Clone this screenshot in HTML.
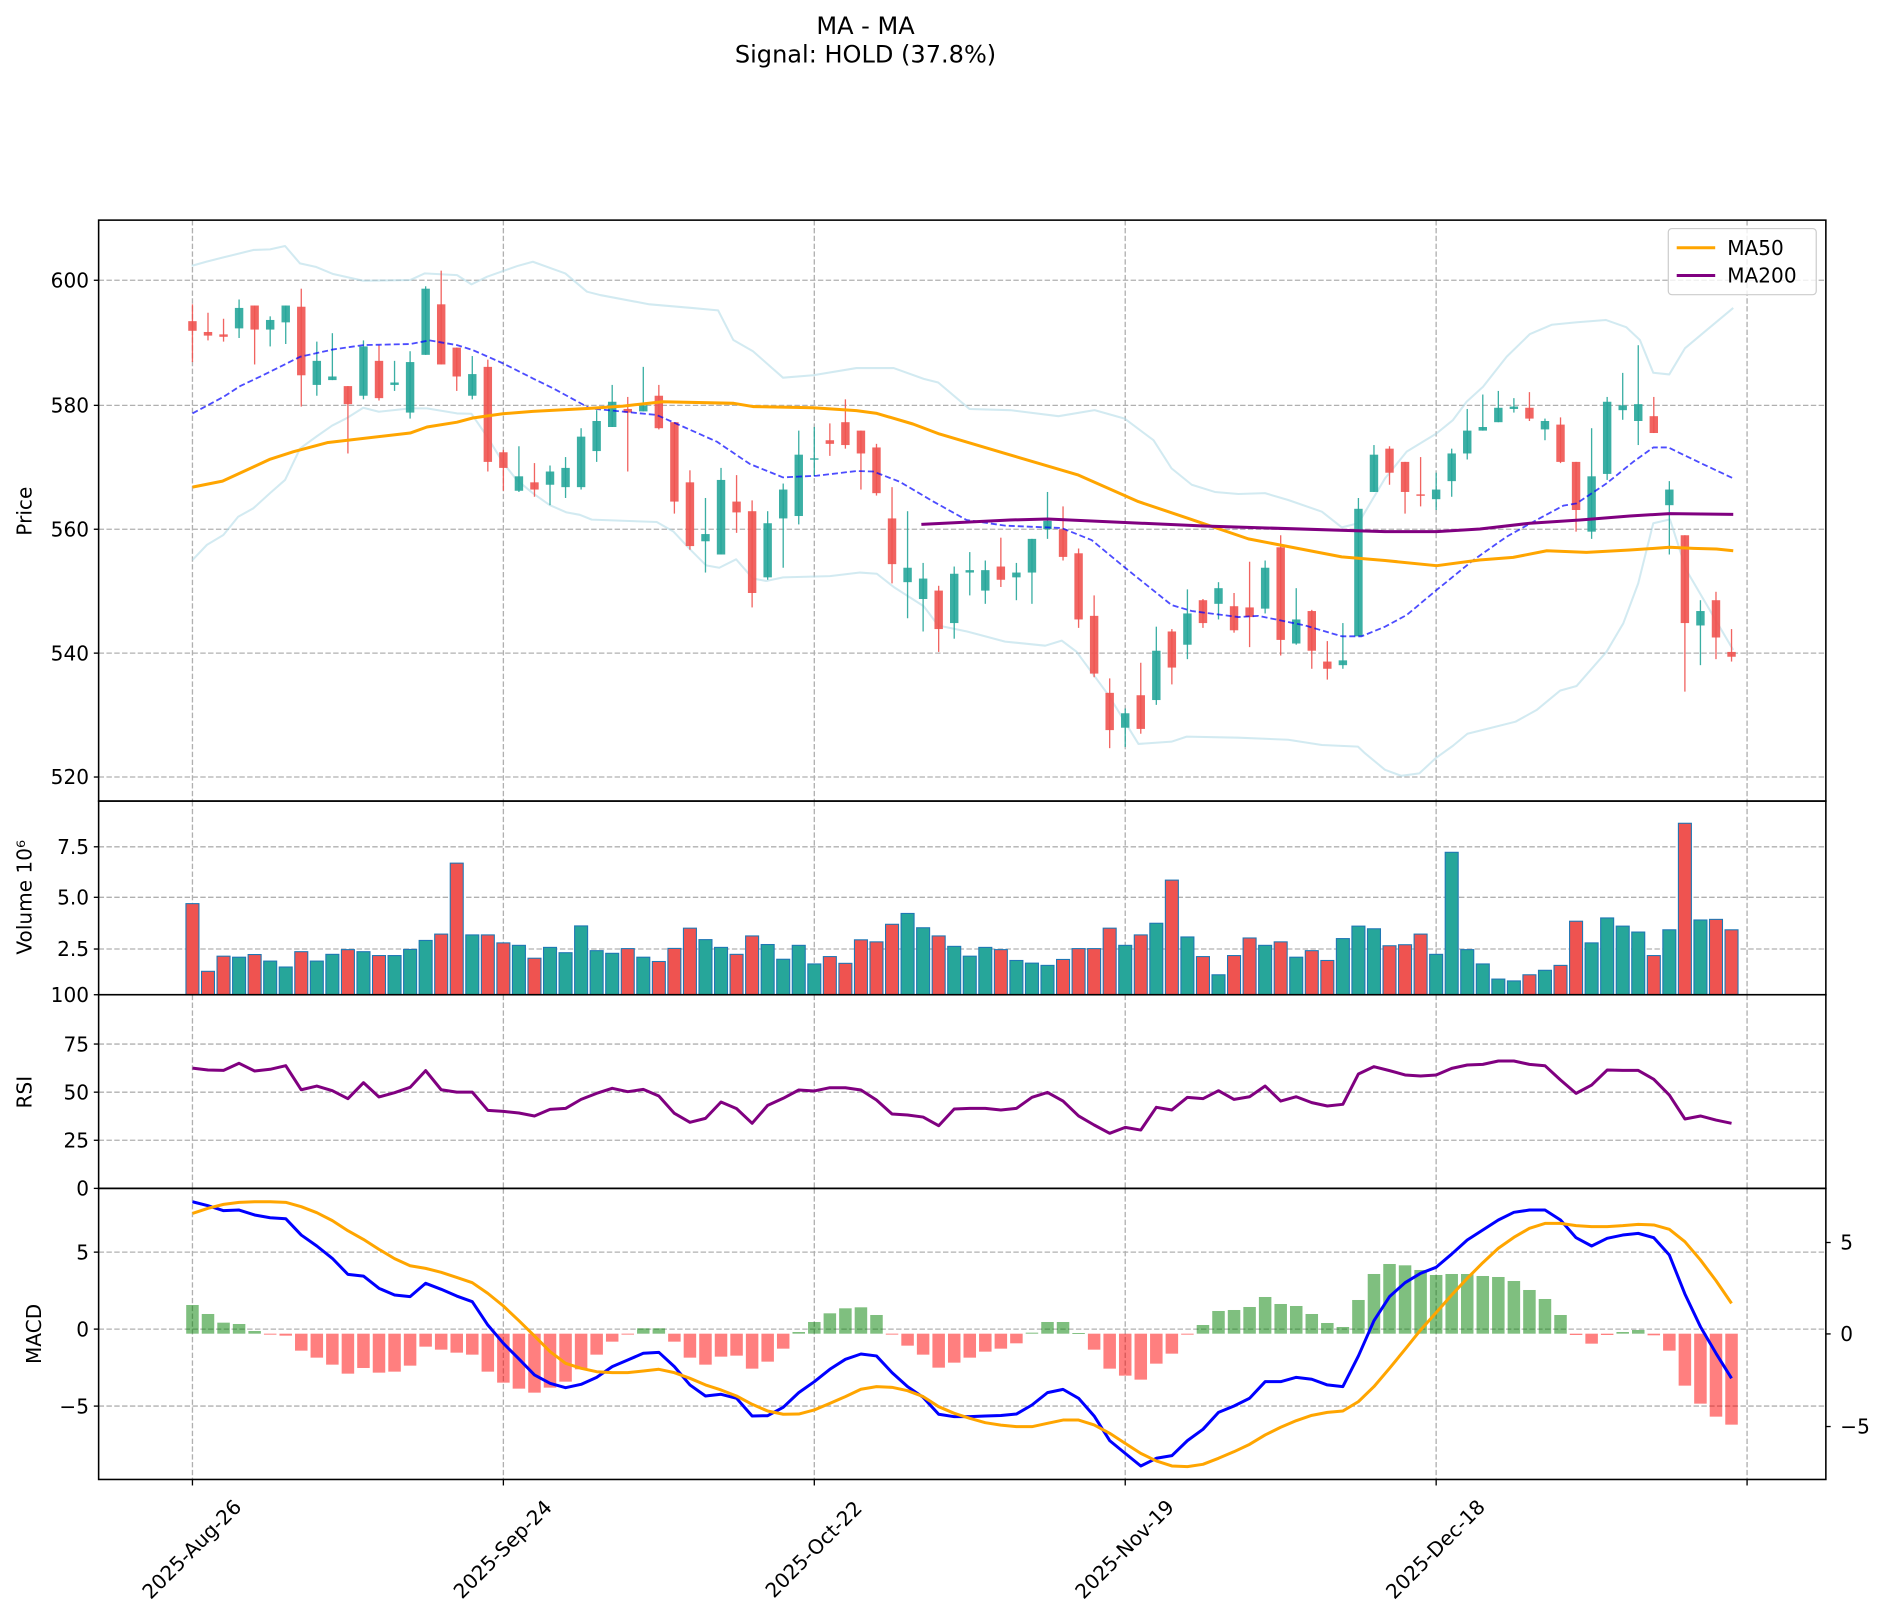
<!DOCTYPE html>
<html><head><meta charset="utf-8"><style>
html,body{margin:0;padding:0;background:#fff;}
svg{display:block;font-family:"DejaVu Sans","Liberation Sans",sans-serif;}
</style></head><body>
<svg id="s" width="1886" height="1619" viewBox="0 0 1568 1346" xmlns="http://www.w3.org/2000/svg">
<rect width="1568" height="1346" fill="#fff"/>
<g id="grid"></g>
<g id="bands"></g>
<g id="plots"></g>
<g id="axes" fill="none" stroke="#000" stroke-width="1.3">
<rect x="82" y="183" width="1436" height="483"/>
<rect x="82" y="666" width="1436" height="161"/>
<rect x="82" y="827" width="1436" height="161"/>
<rect x="82" y="988" width="1436" height="242"/>
</g>
<g id="ticks" stroke="#000" stroke-width="1.1"></g>
<g font-size="16.7" fill="#000">
<text x="719.6" y="28.3" text-anchor="middle" font-size="20">MA - MA</text>
<text x="719.6" y="51.8" text-anchor="middle" font-size="20">Signal: HOLD (37.8%)</text>
<g text-anchor="end">
<text x="74" y="239">600</text><text x="74" y="343">580</text><text x="74" y="446">560</text><text x="74" y="549">540</text><text x="74" y="652">520</text>
<text x="74" y="710">7.5</text><text x="74" y="752">5.0</text><text x="74" y="795">2.5</text>
<text x="74" y="833">100</text><text x="74" y="874">75</text><text x="74" y="914">50</text><text x="74" y="954">25</text><text x="74" y="994">0</text>
<text x="74" y="1047">5</text><text x="74" y="1111">0</text><text x="74" y="1175">−5</text>
</g>
<text x="1530" y="1039">5</text><text x="1530" y="1115">0</text><text x="1530" y="1192">−5</text>
<text transform="translate(26,425) rotate(-90)" text-anchor="middle">Price</text>
<text transform="translate(26,746) rotate(-90)" text-anchor="middle">Volume  10⁶</text>
<text transform="translate(26,908) rotate(-90)" text-anchor="middle">RSI</text>
<text transform="translate(34,1109) rotate(-90)" text-anchor="middle">MACD</text>
<g text-anchor="middle" dominant-baseline="central">
<text transform="translate(159.4,1288) rotate(-45)">2025-Aug-26</text>
<text transform="translate(417.9,1288) rotate(-45)">2025-Sep-24</text>
<text transform="translate(676.4,1288) rotate(-45)">2025-Oct-22</text>
<text transform="translate(934.9,1288) rotate(-45)">2025-Nov-19</text>
<text transform="translate(1193.4,1288) rotate(-45)">2025-Dec-18</text>
</g>
<rect x="1387" y="190" width="123" height="55" fill="#fff" fill-opacity="0.8" stroke="#ccc" stroke-width="1" rx="3"/>
<line x1="1394" y1="206" x2="1426" y2="206" stroke="orange" stroke-width="2.5"/>
<line x1="1394" y1="229" x2="1426" y2="229" stroke="purple" stroke-width="2.5"/>
<text x="1436" y="212">MA50</text><text x="1436" y="235">MA200</text>
</g>
</svg>
<script>
const NS="http://www.w3.org/2000/svg";
function el(p,t,a){const e=document.createElementNS(NS,t);for(const k in a)e.setAttribute(k,a[k]);document.getElementById(p).appendChild(e);return e;}
const X=i=>160+12.925*i;
// grid
const gs={stroke:"#b0b0b0","stroke-width":1.1,"stroke-dasharray":"4.5 2"};
[0,20,40,60,80,100].forEach(i=>{const x=X(i);[[183,666],[666,827],[827,988],[988,1230]].forEach(r=>el("grid","line",Object.assign({x1:x,x2:x,y1:r[0],y2:r[1]},gs)));el("ticks","line",{x1:x,x2:x,y1:1230,y2:1235});});
[233,337,440,543,646,704,746,789,868,908,948,1041,1105,1169].forEach(y=>{el("grid","line",Object.assign({x1:82,x2:1518,y1:y,y2:y},gs));});
[233,337,440,543,646,704,746,789,827,868,908,948,988,1041,1105,1169].forEach(y=>el("ticks","line",{x1:78,x2:82,y1:y,y2:y}));
[1033,1109,1186].forEach(y=>el("ticks","line",{x1:1518,x2:1522,y1:y,y2:y}));
function pl(g,pts,a){el(g,"polyline",Object.assign({points:pts.map(p=>p.join(",")).join(" "),fill:"none","stroke-linejoin":"round"},a));}
const up=[[159.3,221],[171.8,217.5],[185.7,214],[198,211],[210.6,207.8],[224.5,207.3],[237,204.5],[249.4,219],[263,222],[277,227.8],[302,233.4],[341,232.8],[353,227.3],[380,228.7],[392,236.4],[405,230],[430,221.2],[443,217.6],[470,227.3],[488,242.5],[499,245.3],[540,253],[575,256],[597,258],[609.7,282.7],[626,292],[651,314],[676,312],[712,306],[743,306],[768,315],[780,318],[806,340],[840,341],[880,346],[910,341],[935,348],[959,366],[974,389.4],[990.8,403],[1010,409],[1029.6,410.7],[1051.7,410],[1071,415.7],[1099,425.4],[1115.5,438.4],[1129.3,435],[1151.5,397.7],[1169.5,375.5],[1194.4,360.3],[1208,349.2],[1219.3,334],[1233,321.5],[1252.6,296.6],[1272,277.7],[1290,270],[1310,268],[1335,266],[1352,272],[1363.4,282.7],[1374.5,309.9],[1387.8,311.3],[1400.8,289.6],[1418.9,274.4],[1441,256]];
const lo=[[160,465.6],[172,453],[185.7,444.8],[198,429.6],[210.6,422.6],[224.5,410],[237,399],[249.5,372.8],[263,363],[276,353.9],[288,347.8],[302,339],[315,342.3],[341,339.5],[355,339.5],[380,343.7],[392,344],[405,363],[418.5,385],[429.6,399],[443,410],[457,419.9],[471,426],[482,428],[492,432],[546,434],[560,442],[574,457],[587,470],[598,472],[612,465],[626,481],[637,483],[651,480],[690,479],[715,476],[729,477],[743,488],[768,504],[780,520],[804,525],[835.6,533.4],[869,536.8],[882.7,532.6],[895,541.8],[921.5,577.8],[946.5,618.5],[974,616.6],[986.6,612.4],[1029.6,613.3],[1071,615],[1099,619.4],[1129,620.7],[1134.9,626.3],[1151.5,640],[1165,645],[1180,643],[1194,630],[1208,620],[1220,610],[1240,605],[1260,600],[1277.5,590.3],[1297,574.2],[1310.8,570.3],[1335.7,541.8],[1349.6,518.2],[1362,485],[1374.5,435],[1388.4,431.8],[1402,474],[1441,540.4]];
pl("bands",up,{stroke:"#add8e6","stroke-opacity":0.55,"stroke-width":1.7});
pl("bands",lo,{stroke:"#add8e6","stroke-opacity":0.55,"stroke-width":1.7});
const mid=[[160,343.7],[185.7,330],[199.6,321],[219,311.8],[249.5,296.6],[277,290.5],[302,286.9],[341,286],[357,283],[380,286.9],[393,291],[418,302],[443,314.6],[460,322.9],[490.5,339.5],[546,345],[596,367.2],[623.5,385.8],[651,396.9],[679,395.5],[712,391.6],[726,392],[748,400.5],[776,417],[803.6,432.3],[835.6,437],[882.7,439],[907.6,449],[935.4,472],[974,503],[990.8,508],[1029.6,513],[1046.2,512],[1085,520],[1115.5,529],[1132,529],[1151.5,521],[1169.5,511.3],[1194.4,490.5],[1225,465.6],[1252.6,446.2],[1277.5,432.3],[1299.7,420.4],[1310.8,418.5],[1335.7,401.9],[1357.9,383.9],[1374.5,372],[1387,372],[1413.3,384.7],[1441,397.7]];
// candles
const C=[["r",267,275,253,301],["r",276,279,260,283],["r",278,280,265,284],["g",256,273,249,281],["r",254,274,254,303],["g",266,274,263,288],["g",254,268,254,286],["r",255,312,240,338],["g",300,320,284,329],["g",313,316,277,316],["r",321,336,321,377],["g",288,329,283,332],["r",300,331,287,333],["g",318,320,300,325],["g",301,343,292,348],["g",240,295,238,295],["r",253,303,225,303],["r",289,313,289,325],["g",311,329,296,332],["r",305,384,299,392],["r",376,389,374,408],["g",396,408,371,409],["r",401,407,385,413],["g",392,403,387,420],["g",389,405,380,414],["g",363,405,356,407],["g",350,375,341,384],["g",334,355,320,355],["r",340,343,330,392],["g",337,342,305,342],["r",329,356,320,357],["r",351,417,351,427],["r",401,454,391,457],["g",444,450,414,476],["g",399,461,389,461],["r",417,426,395,443],["r",425,493,416,505],["g",435,480,425,482],["g",407,431,402,472],["g",378,429,358,436],["g",381,382,355,396],["r",366,369,352,379],["r",351,370,332,373],["r",358,377,358,407],["r",372,410,369,412],["r",431,469,405,485],["g",472,484,425,514],["g",481,498,468,525],["r",491,523,487,542],["g",477,518,471,531],["g",474,476,459,495],["g",474,491,466,502],["r",471,482,447,488],["g",476,480,468,499],["g",448,476,448,502],["g",433,440,409,448],["r",440,463,421,466],["r",460,515,456,522],["r",512,560,495,563],["r",576,607,564,622],["g",593,605,589,621],["r",578,606,551,610],["g",541,582,521,586],["r",525,555,523,569],["g",510,536,490,548],["r",499,518,498,522],["g",489,502,484,515],["r",504,524,493,526],["r",505,513,467,538],["g",472,506,466,510],["r",455,532,445,545],["g",515,535,489,536],["r",508,541,507,556],["r",550,556,533,565],["g",549,553,518,556],["g",423,529,414,529],["g",378,409,370,409],["r",373,393,371,403],["r",384,409,384,427],["r",411,412,380,421],["g",407,415,393,424],["g",377,400,373,413],["g",358,377,340,382],["g",355,358,328,358],["g",339,351,325,351],["g",338,340,331,343],["r",339,348,326,350],["g",350,357,348,366],["r",353,384,347,385],["r",384,424,384,442],["g",396,442,356,448],["g",334,394,330,399],["g",337,341,310,349],["g",336,350,287,370],["r",346,360,330,360],["g",407,420,400,461],["r",445,518,445,575],["g",508,520,499,553],["r",499,530,492,548],["r",542,546,523,550]];
const RED="#ef5350",GRN="#26a69a";
C.forEach((c,i)=>{const x=X(i),col=c[0]=="r"?RED:GRN;
el("plots","line",{x1:x,x2:x,y1:c[3],y2:c[4],stroke:col,"stroke-width":1.1,"stroke-opacity":0.9});
el("plots","rect",{x:x-3.5,y:c[1],width:7,height:Math.max(1.2,c[2]-c[1]),fill:col,"fill-opacity":0.9});});
pl("plots",mid,{stroke:"#0000ff","stroke-opacity":0.7,"stroke-width":1.5,"stroke-dasharray":"5 2.5"});
pl("plots",[[160,405],[185,400],[211,388],[224,382],[244,375.5],[272,368],[341,360],[355,355],[380,351],[393,347.5],[418,344],[443,342],[490,339.5],[518,337.6],[551,334],[610,335.3],[626,338],[676,339],[712,341.4],[729,343.7],[759,352.5],[781,360.8],[835.6,377],[896.6,395],[946.4,417],[988,431],[1037.9,448],[1115.5,463],[1151.5,466],[1194.4,470.3],[1230,465.6],[1258,463.4],[1286,457.9],[1319,459.2],[1355,457.3],[1388,455],[1408,455.9],[1427,456.4],[1441,457.9]],{stroke:"orange","stroke-width":2.5});
pl("plots",[[766,436],[839.6,432.3],[871,431.5],[1001,437.3],[1151.5,442],[1194.4,442],[1230.4,439.8],[1272,435],[1313.6,432.3],[1355,429],[1388,427],[1441,427.6]],{stroke:"purple","stroke-width":2.5});
// volume
const V=[4.72,1.41,2.15,2.10,2.23,1.91,1.62,2.37,1.91,2.24,2.47,2.37,2.18,2.18,2.48,2.92,3.23,6.70,3.19,3.19,2.80,2.68,2.05,2.58,2.32,3.63,2.42,2.29,2.52,2.10,1.89,2.53,3.52,2.96,2.58,2.24,3.14,2.72,2.00,2.68,1.77,2.13,1.80,2.95,2.85,3.71,4.24,3.54,3.14,2.63,2.15,2.58,2.47,1.94,1.81,1.70,1.99,2.52,2.52,3.52,2.68,3.19,3.76,5.87,3.09,2.13,1.24,2.18,3.04,2.68,2.85,2.10,2.42,1.94,3.01,3.62,3.49,2.66,2.71,3.23,2.24,7.23,2.47,1.77,1.03,0.94,1.24,1.46,1.70,3.86,2.80,4.02,3.62,3.33,2.18,3.44,8.65,3.92,3.95,3.44];
const VC="rrrgrggrggrgrgggrrgrrgrgggggrgrrrggrrggggrrrrrggrgggrgggrrrrgrgrgrgrrgrgrrgggrrrggggggrgrrggggrgrgrr";
V.forEach((v,i)=>{const y=831.5-17*v;el("plots","rect",{x:X(i)-5.4,y:y,width:10.8,height:827-y,fill:VC[i]=="r"?RED:GRN,stroke:"#1f77b4","stroke-width":0.9});});
// RSI
const R=[888,889.6,889.9,884,890.4,889,886,906,902.9,906.8,913.4,900.1,912,908.4,904,890.1,906,908,908,923.1,924,925.3,927.8,922.3,921.5,914,909,904.8,907.6,905.7,911.2,925.6,933.1,929.8,916.2,921.7,933.9,919,913.1,906.2,907,904.3,904.3,906.2,914.5,926.2,927,928.7,935.9,922,921.5,921.5,922.8,921.5,912.3,908.2,915.4,927.8,935.3,942.2,937.3,939.5,920.6,922.8,912.3,913.4,906.8,914,911.8,902.9,915.4,911.8,916.7,919.5,918.1,892.9,886.8,890.1,893.7,894.6,893.7,888.2,885.4,884.9,882.1,882.1,884.9,886,897.9,909,902.1,889.6,889.9,889.9,897.3,910.4,930.3,927.8,931.2,933.9];
pl("plots",R.map((y,i)=>[X(i),y]),{stroke:"purple","stroke-width":2.5});
// MACD hist
const H=[915,942,968,972,993,1004,1007,1052,1073,1094,1121,1104,1118,1115,1097,1040,1049,1058,1064,1115,1148,1166,1178,1163,1145,1108,1064,1025,1001,985,985,1025,1073,1094,1070,1067,1106,1085,1046,996,966,940,925,922,945,1001,1037,1064,1103,1088,1073,1055,1046,1030,998,966,966,999,1049,1106,1127,1139,1091,1061,1004,975,933,930,921,891,912,918,942,969,981,900,822,792,796,810,825,822,822,828,831,843,870,897,945,1005,1031,1005,996,990,1006,1052,1157,1211,1250,1274];
H.forEach((z,i)=>{const y=831.4+z*0.2771,y0=1108.8;const t=Math.min(y,y0),h=Math.abs(y-y0);el("plots","rect",{x:X(i)-5.2,y:t,width:10.4,height:Math.max(h,0.8),fill:z<1001?"#008000":"#ff0000","fill-opacity":0.5});});
const MB=[999.1,1002.4,1006.5,1006,1010.1,1012.4,1013.2,1026.8,1035.9,1046.2,1059.5,1060.9,1071.1,1076.6,1078,1066.9,1071.9,1077.5,1082.2,1101.6,1116.8,1129.8,1143.1,1150.1,1153.7,1150.9,1145.1,1136.2,1130.7,1125.1,1124.3,1136.2,1151.4,1160.6,1159.2,1162.5,1177.2,1177,1170,1157.8,1148.7,1138.4,1130.1,1125.7,1127.3,1141.2,1152.8,1161.7,1175.8,1177.8,1177.8,1177.2,1176.8,1175.6,1168.1,1157.8,1155.1,1162.5,1177.2,1197.7,1208.3,1218.8,1212.4,1210.2,1197.7,1188.3,1174.2,1168.9,1162.5,1148.7,1148.7,1145.1,1146.7,1151.4,1152.8,1127.3,1098,1078,1066.4,1058.6,1053.6,1042.6,1030.9,1022.6,1014.3,1007.9,1006,1006,1014.3,1029,1035.9,1029.5,1026.8,1025.4,1029,1043.4,1075.8,1103,1125.1,1145.9];
const MS=[1008.8,1004.6,1001.3,999.6,999.1,999.1,999.6,1003.2,1008.2,1014.8,1023.2,1030.4,1038.7,1046.4,1052.3,1054.5,1057.8,1062,1066.4,1075.3,1085.8,1098,1110.7,1123.7,1133.4,1137.6,1140.4,1141.2,1141.2,1139.8,1138.4,1141.2,1145.9,1151.4,1155.6,1160.6,1167.5,1173.1,1175.8,1175.6,1172.2,1166.7,1161.1,1155,1152.8,1153.4,1156.2,1161.1,1169.5,1175,1179.2,1182.8,1184.8,1186.1,1186.1,1183.3,1180.6,1180.6,1184.7,1191.6,1200,1208.3,1214.6,1218.8,1219.3,1217.4,1212.4,1206.9,1200.8,1193,1186.6,1181.1,1176.7,1174.2,1173.1,1165.3,1152.8,1137.6,1121.8,1105.7,1091.3,1076.6,1062.8,1049.8,1037.8,1028.7,1021.2,1017.1,1017.1,1019,1019.8,1019.8,1019,1017.9,1018.4,1022,1032.3,1047.5,1064.7,1083.6];
pl("plots",MB.map((y,i)=>[X(i),y]),{stroke:"#0000ff","stroke-width":2.5});
pl("plots",MS.map((y,i)=>[X(i),y]),{stroke:"orange","stroke-width":2.5});
</script>
</body></html>
